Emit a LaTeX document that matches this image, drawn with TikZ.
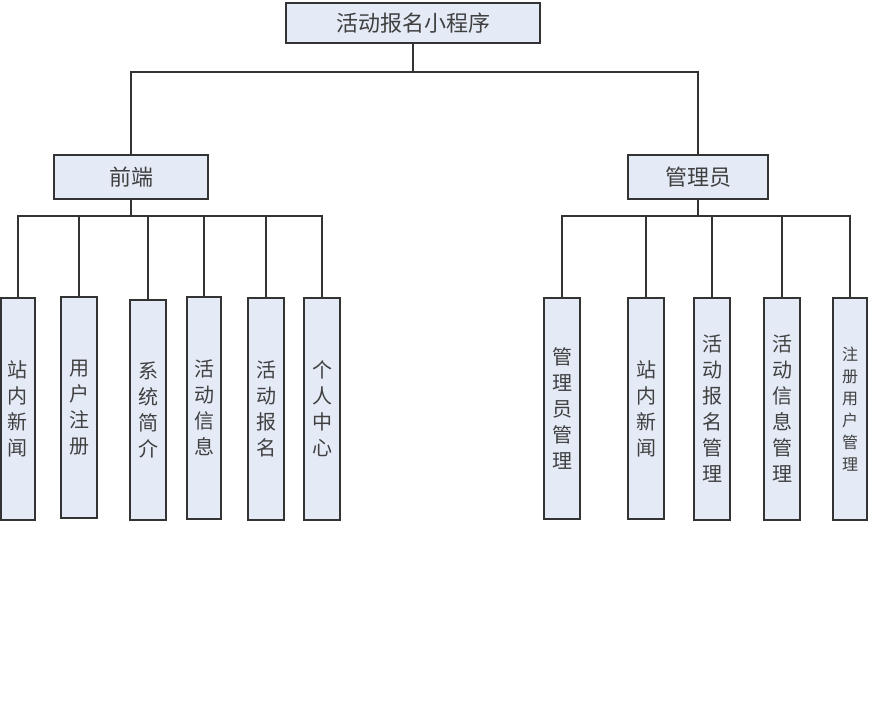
\documentclass[tikz,border=0pt]{standalone}
\usepackage{fontspec}
\newfontfamily\cjk{Noto Sans CJK SC}
\definecolor{boxfill}{HTML}{E4EBF7}
\definecolor{boxline}{HTML}{333333}
\definecolor{txt}{HTML}{404040}
\begin{document}
\begin{tikzpicture}[x=1pt,y=-1pt,
  box/.style={draw=boxline,fill=boxfill,line width=1.3pt,inner sep=0pt,text=txt,align=center},
  hbox/.style={box,font=\cjk\fontsize{22}{24}\selectfont},
  vbox/.style={box,minimum width=36,minimum height=222,font=\cjk\fontsize{20}{26}\selectfont},
  vsmall/.style={vbox,font=\cjk\fontsize{16}{22}\selectfont},
  conn/.style={draw=boxline,line width=1.2pt}]
\useasboundingbox (0,0) rectangle (869,720);
\fill[white] (0,0) rectangle (869,720);
% top and second level
\node[hbox,minimum width=254,minimum height=40] (root) at (413,23) {活动报名小程序};
\node[hbox,minimum width=154,minimum height=44] (front) at (131,177) {前端};
\node[hbox,minimum width=140,minimum height=44] (admin) at (698,177) {管理员};
% left leaves
\node[vbox,minimum width=34] (l1) at (18,409) {站\\内\\新\\闻};
\node[vbox,minimum height=221] (l2) at (79,407.5) {用\\户\\注\\册};
\node[vbox,minimum height=220] (l3) at (148,410) {系\\统\\简\\介};
\node[vbox,minimum width=34] (l4) at (204,408) {活\\动\\信\\息};
\node[vbox] (l5) at (266,409) {活\\动\\报\\名};
\node[vbox] (l6) at (322,409) {个\\人\\中\\心};
% right leaves
\node[vbox,minimum height=221] (r1) at (562,408.5) {管\\理\\员\\管\\理};
\node[vbox,minimum height=221] (r2) at (646,408.5) {站\\内\\新\\闻};
\node[vbox] (r3) at (712,409) {活\\动\\报\\名\\管\\理};
\node[vbox] (r4) at (782,409) {活\\动\\信\\息\\管\\理};
\node[vsmall,minimum width=34] (r5) at (850,409) {注\\册\\用\\户\\管\\理};
% connectors: level 1
\draw[conn] (root.south) -- (root.south |- 0,72);
\draw[conn] (front.north) -- (front.north |- 0,72) -- (admin.north |- 0,72) -- (admin.north);
% left bus
\draw[conn] (front.south) -- (front.south |- 0,216);
\draw[conn] (l1.north) -- (l1.north |- 0,216) -- (l6.north |- 0,216) -- (l6.north);
\foreach \n in {l2,l3,l4,l5} \draw[conn] (\n.north) -- (\n.north |- 0,216);
% right bus
\draw[conn] (admin.south) -- (admin.south |- 0,216);
\draw[conn] (r1.north) -- (r1.north |- 0,216) -- (r5.north |- 0,216) -- (r5.north);
\foreach \n in {r2,r3,r4} \draw[conn] (\n.north) -- (\n.north |- 0,216);
\end{tikzpicture}
\end{document}
